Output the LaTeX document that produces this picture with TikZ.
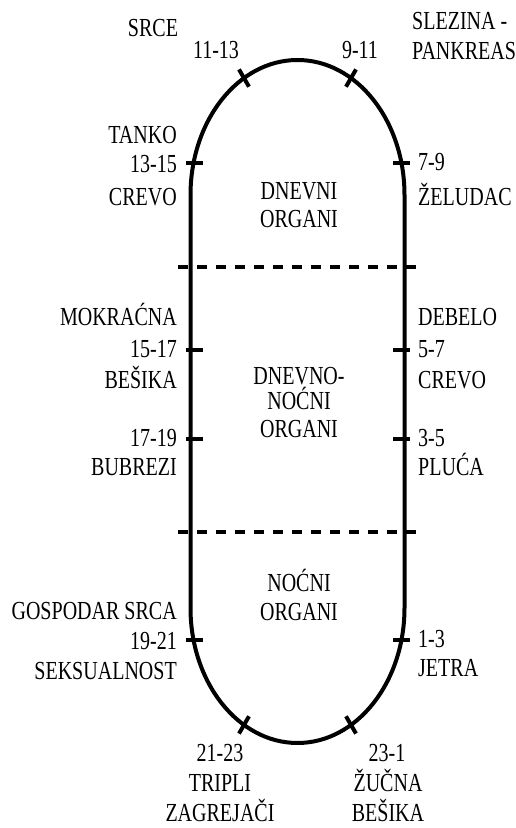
\documentclass[tikz,border=0pt]{standalone}
\usepackage{fontspec}
\setmainfont{Liberation Serif}[FakeStretch=0.77]
\usetikzlibrary{calc}

\begin{document}
\begin{tikzpicture}[x=1pt,y=1pt]
  \tikzstyle{lbl}=[inner sep=0pt,font=\fontsize{26}{30}\selectfont]
  \tikzstyle{outline}=[line width=4pt]
  \tikzstyle{tickmark}=[line width=4pt]
  \tikzstyle{split}=[line width=4pt,dash pattern=on 10pt off 9pt]
  \useasboundingbox (0,0) rectangle (516,828);
  % the track
  \coordinate (tc) at (297.5,633);
  \coordinate (bc) at (297.5,220);
  \draw[outline] (404.5,633) arc[start angle=0,end angle=180,x radius=107,y radius=135]
    -- (190.5,220) arc[start angle=180,end angle=360,x radius=107,y radius=135] -- cycle;
  % slanted ticks
  \foreach \n/\c/\a in {t1113/tc/120, t911/tc/60, t2123/bc/240, t231/bc/300} {
    \coordinate (\n) at ($(\c)+(\a:107 and 135)$);
    \draw[tickmark] ($(\n)+(\a:10)$) -- ($(\n)+(\a+180:10)$);
  }
  % flat ticks
  \foreach \y in {665,478,389,188} {
    \draw[tickmark] (186,\y) -- (203,\y);
    \draw[tickmark] (393,\y) -- (410,\y);
  }
  % day / night borders
  \draw[split] (178,561) -- (418,561);
  \draw[split] (178,296) -- (418,296);
  % labels
  \foreach \t/\y [count=\i] in {TANKO/684.5, 13-15/655, CREVO/622, MOKRAĆNA/502, 15-17/470,
      BEŠIKA/439, 17-19/381, BUBREZI/352, GOSPODAR SRCA/208, 19-21/178, SEKSUALNOST/148}
    \node[lbl,anchor=base east] (l\i) at (177,\y) {\t};
  \foreach \t/\y [count=\i] in {SLEZINA -/798, PANKREAS/768, 7-9/657, ŽELUDAC/622, DEBELO/502,
      5-7/470, CREVO/439, 3-5/381, PLUĆA/352, 1-3/180, JETRA/151}
    \node[lbl,anchor=base west] (r\i) at ({\i<3 ? 412 : 418},\y) {\t};
  \foreach \t/\x/\y [count=\i] in {SRCE/153/791, 11-13/216/769, 9-11/360/769,
      21-23/220/66, TRIPLI/220/36, ZAGREJAČI/220/6, 23-1/387/66, ŽUČNA/388/36, BEŠIKA/388/6,
      DNEVNI/299/628, ORGANI/299/600, DNEVNO-/299/443, NOĆNI/299/418, ORGANI/299/390,
      NOĆNI/299/236, ORGANI/299/207}
    \node[lbl,anchor=base] (c\i) at (\x,\y) {\t};
\end{tikzpicture}
\end{document}
